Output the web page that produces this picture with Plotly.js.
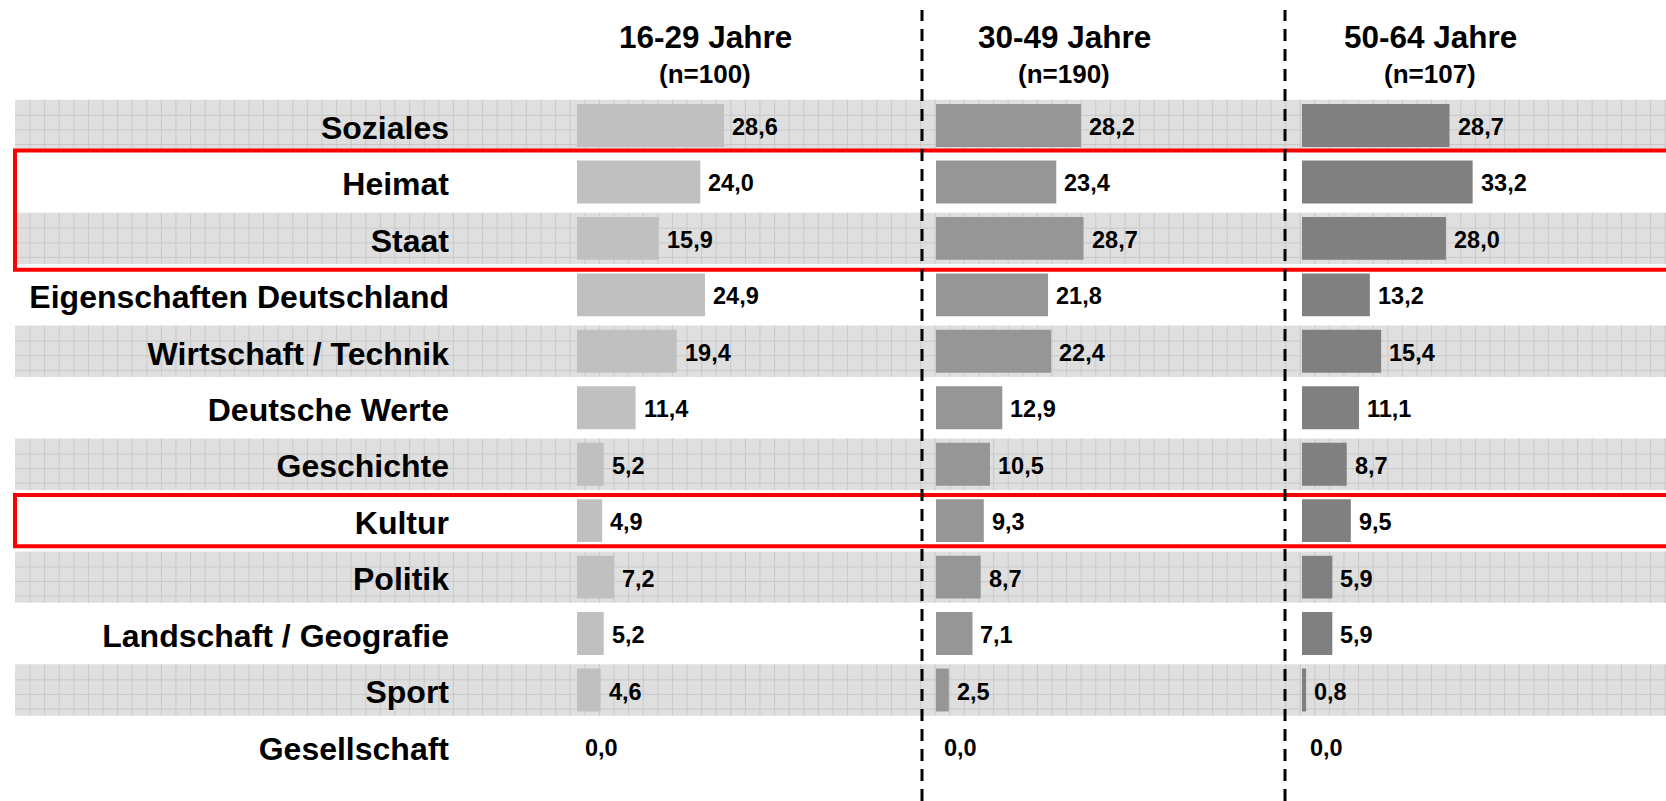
<!DOCTYPE html>
<html>
<head>
<meta charset="utf-8">
<script src="https://cdn.plot.ly/plotly-3.0.1.min.js"></script>
<style>
html,body{margin:0;padding:0;background:#fff;}
#chart{width:1666px;height:801px;}
</style>
</head>
<body>
<div id="chart"></div>
<script>
// ---- data ----
const categories = ['Soziales','Heimat','Staat','Eigenschaften Deutschland','Wirtschaft / Technik','Deutsche Werte','Geschichte','Kultur','Politik','Landschaft / Geografie','Sport','Gesellschaft'];
const groupTitles = ['16-29 Jahre','30-49 Jahre','50-64 Jahre'];
const groupN = ['(n=100)','(n=190)','(n=107)'];
const values1629 = [28.6,24.0,15.9,24.9,19.4,11.4,5.2,4.9,7.2,5.2,4.6,0.0];
const values3049 = [28.2,23.4,28.7,21.8,22.4,12.9,10.5,9.3,8.7,7.1,2.5,0.0];
const values5064 = [28.7,33.2,28.0,13.2,15.4,11.1,8.7,9.5,5.9,5.9,0.8,0.0];
const highlightedRows = [['Heimat','Staat'],['Kultur']];

// ---- layout geometry (pixels) ----
const W = 1666, H = 801;
const FONT = 'Liberation Sans, Arial, Helvetica, sans-serif';
const pxPerUnit = 5.14, xMax = 60;
const panelStart = [577, 936, 1302];
const rowTop = 125.5, rowStep = 56.45;
const n = categories.length;
const yTopPx = rowTop - rowStep/2, yBotPx = rowTop + (n - 0.5)*rowStep;
const yDomain = [1 - yBotPx/H, 1 - yTopPx/H];
const colors = ['#c0c0c0','#969696','#808080'];
const series = [values1629, values3049, values5064];
const axNames = ['x','x2','x3'];

const traces = series.map((vals, k) => ({
  type: 'bar', orientation: 'h',
  x: vals, y: categories,
  xaxis: axNames[k], yaxis: 'y',
  width: 0.76,
  marker: {color: colors[k], line: {width: 0}},
  hoverinfo: 'skip', showlegend: false
}));

const layout = {
  width: W, height: H,
  margin: {l: 0, r: 0, t: 0, b: 0},
  paper_bgcolor: '#ffffff', plot_bgcolor: 'rgba(0,0,0,0)',
  barmode: 'overlay', showlegend: false, hovermode: false,
  font: {family: FONT, color: '#000'},
  yaxis: {
    domain: yDomain, type: 'category',
    categoryorder: 'array', categoryarray: categories,
    range: [n - 0.5, -0.5], autorange: false,
    showgrid: false, zeroline: false, showline: false, ticks: '',
    anchor: 'x', ticklabelstandoff: 127, ticklabelshift: -2,
    tickfont: {family: FONT, size: 32, color: '#000', weight: 'bold'},
    fixedrange: true
  },
  annotations: [], shapes: []
};

axNames.forEach((a, k) => {
  const key = k === 0 ? 'xaxis' : 'xaxis' + (k + 1);
  const d0 = panelStart[k] / W;
  layout[key] = {
    domain: [d0, d0 + xMax * pxPerUnit / W],
    range: [0, xMax], anchor: 'y',
    visible: false, showgrid: false, zeroline: false, fixedrange: true
  };
});

// headers
const domRef = ['x domain','x2 domain','x3 domain'];
groupTitles.forEach((t, k) => {
  const cx = 128 / (xMax * pxPerUnit);
  layout.annotations.push({
    xref: domRef[k], yref: 'paper', x: cx, y: 1 - 37/H,
    xanchor: 'center', yanchor: 'middle', showarrow: false,
    text: t, font: {family: FONT, size: 31.5, color: '#000', weight: 'bold'}
  });
  layout.annotations.push({
    xref: domRef[k], yref: 'paper', x: cx, y: 1 - 74/H,
    xanchor: 'center', yanchor: 'middle', showarrow: false,
    text: groupN[k], font: {family: FONT, size: 26, color: '#000', weight: 'bold'}
  });
});

// value labels
series.forEach((vals, k) => {
  vals.forEach((v, i) => {
    layout.annotations.push({
      xref: axNames[k], yref: 'y', x: v, y: categories[i],
      xanchor: 'left', yanchor: 'middle', xshift: 6, yshift: -1.5, showarrow: false,
      text: v.toFixed(1).replace('.', ','),
      font: {family: FONT, size: 23.5, color: '#000', weight: 'bold'}
    });
  });
});

// striped background bands with fine grid
const bandHalf = 0.455;
for (let i = 0; i < n; i += 2) {
  layout.shapes.push({
    type: 'rect', layer: 'below', xref: 'paper', yref: 'y',
    x0: 15/W, x1: 1, y0: i - bandHalf, y1: i + bandHalf,
    fillcolor: '#dfdfdf', line: {width: 0}
  });
  const topPx = rowTop + i*rowStep - bandHalf*rowStep;
  const botPx = rowTop + i*rowStep + bandHalf*rowStep;
  let p = '';
  for (let x = 30; x < W; x += 14.6) {
    p += `M${(x/W).toFixed(5)},${(1-topPx/H).toFixed(5)}L${(x/W).toFixed(5)},${(1-botPx/H).toFixed(5)}`;
  }
  for (let y = topPx + 15.5; y < botPx - 2; y += 14.6) {
    p += `M${(15/W).toFixed(5)},${(1-y/H).toFixed(5)}L1,${(1-y/H).toFixed(5)}`;
  }
  layout.shapes.push({
    type: 'path', layer: 'below', xref: 'paper', yref: 'paper',
    path: p, line: {color: '#c9c9c9', width: 1}
  });
}

// red highlight boxes
const pads = [0.556, 0.455];
highlightedRows.forEach((rows, j) => {
  const i0 = categories.indexOf(rows[0]);
  const i1 = categories.indexOf(rows[rows.length - 1]);
  layout.shapes.push({
    type: 'rect', layer: 'above', xref: 'paper', yref: 'y',
    x0: 15/W, x1: 1.01, y0: i0 - pads[j], y1: i1 + pads[j],
    fillcolor: 'rgba(0,0,0,0)', line: {color: '#ff0000', width: 4}
  });
});

// dashed separators
[922, 1285].forEach(xp => {
  layout.shapes.push({
    type: 'line', layer: 'above', xref: 'paper', yref: 'paper',
    x0: xp/W, x1: xp/W, y0: 0, y1: 1 - 10/H,
    line: {color: '#000', width: 3, dash: '12px,8px'}
  });
});

Plotly.newPlot('chart', traces, layout, {displayModeBar: false, staticPlot: true});
</script>
</body>
</html>
